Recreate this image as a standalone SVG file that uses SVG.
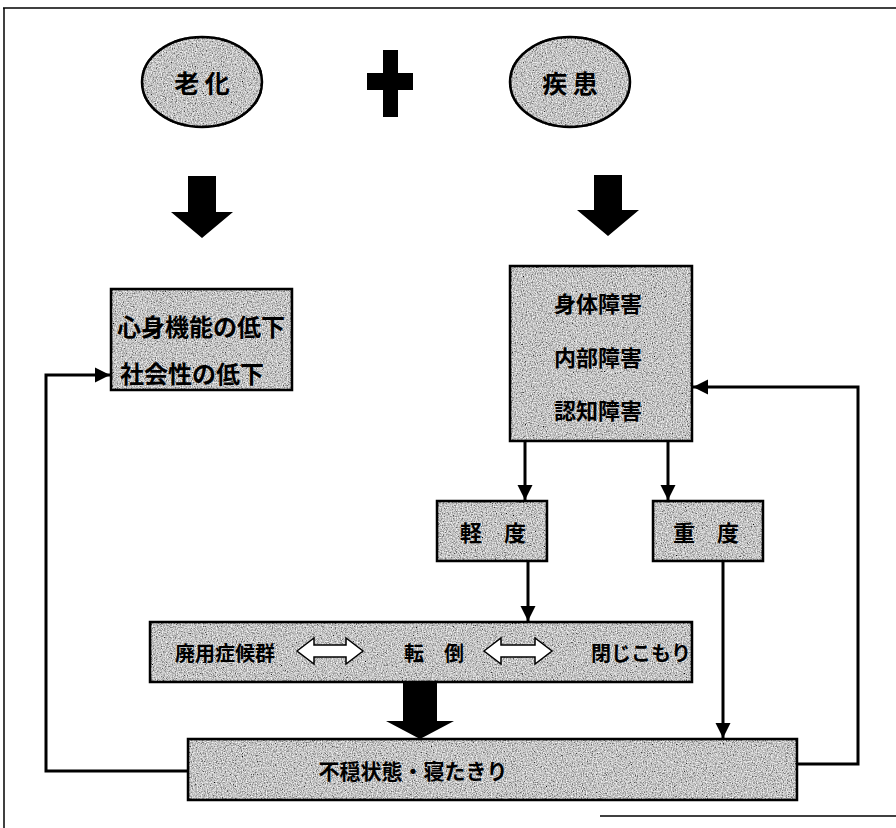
<svg xmlns="http://www.w3.org/2000/svg" width="896" height="828" viewBox="0 0 896 828">
<defs>
<style>
.t{font-family:"Noto Sans CJK JP","Noto Sans CJK SC",sans-serif;font-weight:bold;fill:#000;text-anchor:middle;dominant-baseline:central}
.l{text-anchor:start}
.box{fill:#bebebe;stroke:#000;stroke-width:2.5}
.ln{fill:none;stroke:#000;stroke-width:3}
.blk{fill:#000}
.wa{fill:#fff;stroke:#000;stroke-width:1.5}
</style>
<filter id="grain" x="0" y="0" width="100%" height="100%">
<feTurbulence type="fractalNoise" baseFrequency="0.9" numOctaves="2" seed="3" result="n"/>
<feColorMatrix in="n" type="matrix" values="0 0 0 0 0  0 0 0 0 0  0 0 0 0 0  0 0 0 -2.2 1.35" result="a"/>
<feComposite in="a" in2="SourceGraphic" operator="in" result="dots"/>
<feTurbulence type="fractalNoise" baseFrequency="0.8" numOctaves="1" seed="9" result="n2"/>
<feColorMatrix in="n2" type="matrix" values="0 0 0 0 1  0 0 0 0 1  0 0 0 0 1  0 0 0 -2.4 1.45" result="b"/>
<feComposite in="b" in2="SourceGraphic" operator="in" result="wdots"/>
<feMerge><feMergeNode in="SourceGraphic"/><feMergeNode in="dots"/><feMergeNode in="wdots"/></feMerge>
</filter>
<marker id="ah" viewBox="0 0 10 10" refX="10" refY="5" markerWidth="5" markerHeight="5.5" markerUnits="strokeWidth" orient="auto">
<path d="M0,0 L10,5 L0,10 z" fill="#000"/>
</marker>
</defs>
<rect width="896" height="828" fill="#fff"/>
<g id="frame" fill="none" stroke="#000" stroke-width="1.5">
<path d="M3,8 H896"/>
<path d="M4,8 V828"/>
<path d="M600,816 H896"/>
</g>

<g id="aging">
<ellipse cx="202" cy="82" rx="60" ry="45" class="box" filter="url(#grain)"/>
<ellipse cx="202" cy="82" rx="60" ry="45" fill="none" stroke="#000" stroke-width="2.5"/>
<text class="t" x="202" y="82" font-size="25">老 化</text>
</g>

<g id="plus">
<rect x="383" y="50" width="15" height="67" class="blk"/>
<rect x="367" y="73" width="46" height="17" class="blk"/>
</g>

<g id="disease">
<ellipse cx="570" cy="82" rx="60" ry="45" class="box" filter="url(#grain)"/>
<ellipse cx="570" cy="82" rx="60" ry="45" fill="none" stroke="#000" stroke-width="2.5"/>
<text class="t" x="570" y="82" font-size="25">疾 患</text>
</g>

<g id="decline">
<rect x="111" y="289" width="181" height="101" class="box" filter="url(#grain)"/>
<rect x="111" y="289" width="181" height="101" fill="none" stroke="#000" stroke-width="2.5"/>
<text class="t l" x="117" y="325" font-size="24">心身機能の低下</text>
<text class="t l" x="120" y="372" font-size="24">社会性の低下</text>
</g>

<g id="disability">
<rect x="510" y="266" width="182" height="175" class="box" filter="url(#grain)"/>
<rect x="510" y="266" width="182" height="175" fill="none" stroke="#000" stroke-width="2.5"/>
<text class="t" x="598" y="302" font-size="22">身体障害</text>
<text class="t" x="598" y="356" font-size="22">内部障害</text>
<text class="t" x="598" y="409" font-size="22">認知障害</text>
</g>

<g id="mild">
<rect x="437" y="501" width="110" height="60" class="box" filter="url(#grain)"/>
<rect x="437" y="501" width="110" height="60" fill="none" stroke="#000" stroke-width="2.5"/>
<text class="t" x="493" y="531" font-size="22">軽　度</text>
</g>

<g id="severe">
<rect x="653" y="501" width="110" height="60" class="box" filter="url(#grain)"/>
<rect x="653" y="501" width="110" height="60" fill="none" stroke="#000" stroke-width="2.5"/>
<text class="t" x="706" y="531" font-size="22">重　度</text>
</g>

<g id="syndromes">
<rect x="150" y="622" width="542" height="60" class="box" filter="url(#grain)"/>
<rect x="150" y="622" width="542" height="60" fill="none" stroke="#000" stroke-width="2.5"/>
<text class="t" x="225" y="652" font-size="20">廃用症候群</text>
<path class="wa" d="M297,651 L314,638 V645 H346 V638 L363,651 L346,664 V657 H314 V664 z"/>
<text class="t" x="434" y="652" font-size="20">転　倒</text>
<path class="wa" d="M484,651 L501,638 V645 H535 V638 L552,651 L535,664 V657 H501 V664 z"/>
<text class="t" x="641" y="652" font-size="20">閉じこもり</text>
</g>

<g id="bedridden">
<rect x="188" y="739" width="609" height="61" class="box" filter="url(#grain)"/>
<rect x="188" y="739" width="609" height="61" fill="none" stroke="#000" stroke-width="2.5"/>
<text class="t" x="413" y="770" font-size="21">不穏状態・寝たきり</text>
</g>

<g id="connectors">
<path class="blk" d="M188,176 H216 V212 H233 L202,238 L171,212 H188 z"/>
<path class="blk" d="M594,175 H622 V210 H639 L608,236 L577,210 H594 z"/>
<path class="blk" d="M403,682 H437 V721 H454 L420,739 L386,721 H403 z"/>
<path class="ln" d="M525,441 V500" marker-end="url(#ah)"/>
<path class="ln" d="M668,441 V500" marker-end="url(#ah)"/>
<path class="ln" d="M528,561 V621" marker-end="url(#ah)"/>
<path class="ln" d="M723,561 V738" marker-end="url(#ah)"/>
<path class="ln" d="M188,771 H46 V375 H110" marker-end="url(#ah)"/>
<path class="ln" d="M797,764 H858 V387 H693" marker-end="url(#ah)"/>
</g>
</svg>
